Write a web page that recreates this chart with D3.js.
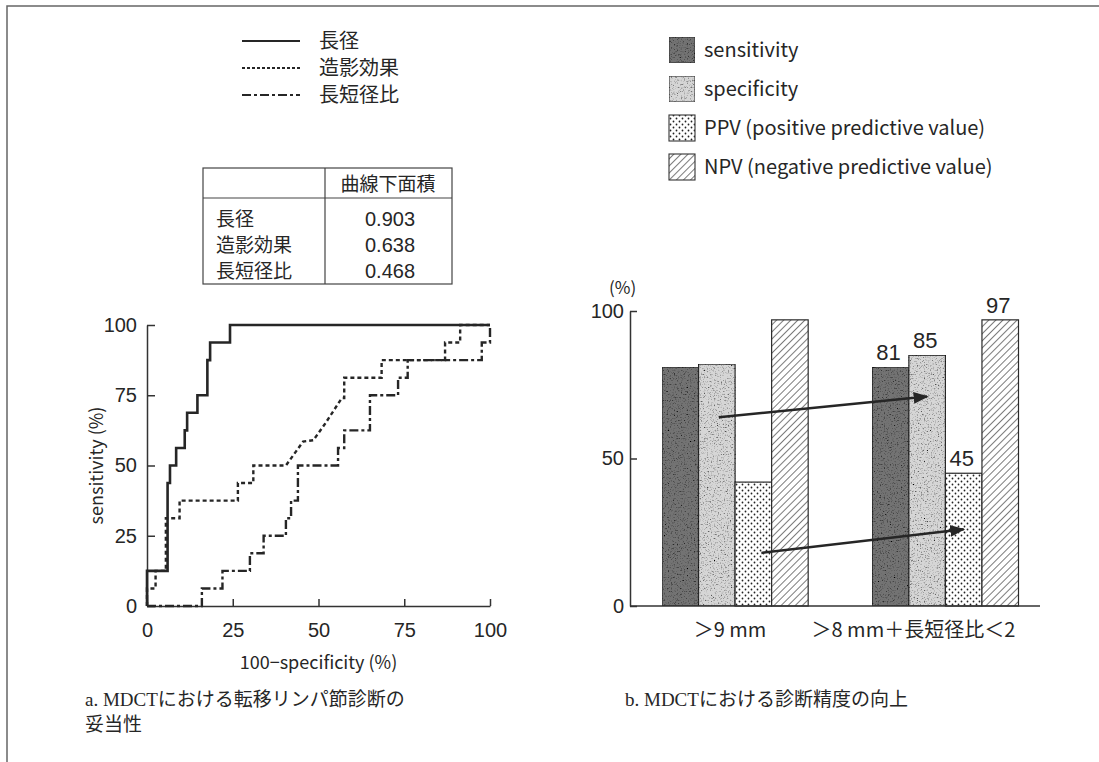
<!DOCTYPE html>
<html>
<head>
<meta charset="utf-8">
<script src="https://cdn.jsdelivr.net/npm/d3@7"></script>
<style>
  body { margin: 0; background: #fff; }
  svg { display: block; }
</style>
</head>
<body>
<svg id="chart" width="1099" height="762"></svg>
<script>
// ---- data: ROC curves (a) ----
const rocNames = ["長径", "造影効果", "長短径比"];
const rocAuc = ["0.903", "0.638", "0.468"];
const rocTicks = [0, 25, 50, 75, 100];

// vertices of each curve (100-specificity, sensitivity)
const fprLong = [0, 0, 6, 6, 6.7, 6.7, 8.5, 8.5, 11, 11, 11.7, 11.7, 14.7, 14.7, 17.6, 17.6, 18.4, 18.4, 24.2, 24.2, 100];
const tprLong = [0, 12.5, 12.5, 43.75, 43.75, 50, 50, 56.25, 56.25, 62.5, 62.5, 68.75, 68.75, 75, 75, 87.5, 87.5, 93.75, 93.75, 100, 100];

const fprContrast = [0, 0, 2.5, 2.5, 5.5, 5.5, 9.5, 9.5, 26.5, 26.5, 31, 31, 40.5, 45.5, 48.5, 52, 56.8, 57.5, 57.5, 68.4, 68.4, 86.9, 86.9, 91.3, 91.3, 100];
const tprContrast = [0, 6.25, 6.25, 12.5, 12.5, 31.25, 31.25, 37.5, 37.5, 43.75, 43.75, 50, 50, 58.5, 59, 65, 74, 74, 81.25, 81.25, 87.5, 87.5, 93.75, 93.75, 100, 100];

const fprRatio = [0, 16, 16, 22, 22, 30, 30, 34, 34, 40.5, 40.5, 42, 42, 44, 44, 55.7, 55.7, 57.5, 57.5, 65, 65, 73.2, 73.2, 76, 76, 97.6, 97.6, 100, 100];
const tprRatio = [0, 0, 6.25, 6.25, 12.5, 12.5, 18.75, 18.75, 25, 25, 31.25, 31.25, 37.5, 37.5, 50, 50, 56.25, 56.25, 62.5, 62.5, 75, 75, 81.25, 81.25, 87.5, 87.5, 93.75, 93.75, 100];

// ---- data: diagnostic accuracy bars (b) ----
const groups = ["＞9 mm", "＞8 mm＋長短径比＜2"];
const series = ["sensitivity", "specificity", "PPV", "NPV"];
const seriesLabels = ["sensitivity", "specificity", "PPV (positive predictive value)", "NPV (negative predictive value)"];
const valuesNine = [81, 82, 42, 97];
const valuesEight = [81, 85, 45, 97];
const barTicks = [0, 50, 100];

// arrows between the two groups, per series: value at start and at the tip
const arrowSeries = ["specificity", "PPV"];
const arrowFrom = [64, 18];
const arrowTo = [71, 26];

const svg = d3.select("#chart");
const ink = "#262626";
const sans = "'Liberation Sans', 'Noto Sans CJK JP', sans-serif";
const jp = "'Noto Sans CJK JP', sans-serif";
const serif = "'Liberation Serif', 'DejaVu Serif', 'Noto Sans CJK JP', serif";

// frame (only top & left visible)
svg.append("path")
  .attr("d", "M7,762V6H1099")
  .attr("fill", "none")
  .attr("stroke", "#666")
  .attr("stroke-width", 1.5);

// ---- defs: patterns, grain, arrow ----
const defs = svg.append("defs");

const dots = defs.append("pattern")
  .attr("id", "dots")
  .attr("patternUnits", "userSpaceOnUse")
  .attr("width", 6).attr("height", 6);
dots.append("rect").attr("width", 6).attr("height", 6).attr("fill", "#fff");
dots.append("circle").attr("cx", 1.5).attr("cy", 1.5).attr("r", 0.9).attr("fill", "#222");
dots.append("circle").attr("cx", 4.5).attr("cy", 4.5).attr("r", 0.9).attr("fill", "#222");

const hatch = defs.append("pattern")
  .attr("id", "hatch")
  .attr("patternUnits", "userSpaceOnUse")
  .attr("width", 5).attr("height", 5)
  .attr("patternTransform", "rotate(45)");
hatch.append("rect").attr("width", 5).attr("height", 5).attr("fill", "#fff");
hatch.append("line").attr("x1", 0).attr("y1", 0).attr("x2", 0).attr("y2", 5)
  .attr("stroke", "#222").attr("stroke-width", 1.2);

// speckled print texture for the two grey fills
const grain = defs.append("filter").attr("id", "grain")
  .attr("x", 0).attr("y", 0).attr("width", 1).attr("height", 1);
grain.append("feTurbulence").attr("type", "fractalNoise")
  .attr("baseFrequency", 0.7).attr("numOctaves", 2).attr("seed", 5).attr("result", "noise");
grain.append("feColorMatrix").attr("in", "noise").attr("type", "matrix")
  .attr("values", "0 0 0 0 0  0 0 0 0 0  0 0 0 0 0  3 0 0 0 -1.6").attr("result", "speck");
grain.append("feComposite").attr("in", "speck").attr("in2", "SourceGraphic")
  .attr("operator", "in").attr("result", "speckIn");
const merge = grain.append("feMerge");
merge.append("feMergeNode").attr("in", "SourceGraphic");
merge.append("feMergeNode").attr("in", "speckIn");

defs.append("marker")
  .attr("id", "arrowhead")
  .attr("viewBox", "0 -5 10 10")
  .attr("refX", 9).attr("refY", 0)
  .attr("markerWidth", 6).attr("markerHeight", 6)
  .attr("markerUnits", "strokeWidth")
  .attr("orient", "auto")
  .append("path")
  .attr("d", "M0,-4L10,0L0,4Z")
  .attr("fill", ink);

// ======================= a. ROC =======================
const xRoc = d3.scaleLinear().domain([0, 100]).range([147, 490]);
const yRoc = d3.scaleLinear().domain([0, 100]).range([606, 325]);

const rocStyles = [
  { dash: null, width: 2.6, legendDash: null },
  { dash: "4,3", width: 2.4, legendDash: "3,2" },
  { dash: "9,3,3,3", width: 2.4, legendDash: "9,3,3,3" }
];

// legend
const legendA = svg.append("g").attr("class", "legend-a");
rocNames.forEach((name, i) => {
  const y = 41 + i * 27;
  legendA.append("line")
    .attr("x1", 242).attr("x2", 300).attr("y1", y).attr("y2", y)
    .attr("stroke", ink)
    .attr("stroke-width", 2)
    .attr("stroke-dasharray", rocStyles[i].legendDash);
  legendA.append("text")
    .attr("x", 319).attr("y", y)
    .attr("dy", "0.36em")
    .style("font-family", jp)
    .style("font-size", "20px")
    .attr("fill", ink)
    .text(name);
});

// AUC table
const table = svg.append("g").attr("class", "auc-table");
table.append("rect")
  .attr("x", 203).attr("y", 168).attr("width", 249).attr("height", 116)
  .attr("fill", "none").attr("stroke", "#444").attr("stroke-width", 1.2);
table.append("line").attr("x1", 203).attr("x2", 452).attr("y1", 198).attr("y2", 198)
  .attr("stroke", "#444").attr("stroke-width", 1.2);
table.append("line").attr("x1", 325).attr("x2", 325).attr("y1", 168).attr("y2", 284)
  .attr("stroke", "#444").attr("stroke-width", 1.2);
table.append("text")
  .attr("x", 388).attr("y", 184).attr("dy", "0.36em")
  .attr("text-anchor", "middle")
  .style("font-family", jp).style("font-size", "19px").attr("fill", ink)
  .text("曲線下面積");
rocNames.forEach((name, i) => {
  const y = 219 + i * 26;
  table.append("text")
    .attr("x", 216).attr("y", y).attr("dy", "0.36em")
    .style("font-family", jp).style("font-size", "19px").attr("fill", ink)
    .text(name);
  table.append("text")
    .attr("x", 390).attr("y", y).attr("dy", "0.36em")
    .attr("text-anchor", "middle")
    .style("font-family", sans).style("font-size", "20px").attr("fill", ink)
    .text(rocAuc[i]);
});

// axes
const axisA = svg.append("g").attr("class", "axis-a");
axisA.append("g")
  .attr("transform", `translate(${xRoc(0)},0)`)
  .call(d3.axisLeft(yRoc).tickValues(rocTicks).tickSize(-8).tickSizeOuter(0).tickPadding(10));
axisA.append("g")
  .attr("transform", `translate(0,${yRoc(0)})`)
  .call(d3.axisBottom(xRoc).tickValues(rocTicks).tickSize(-7).tickSizeOuter(0).tickPadding(17));
axisA.selectAll("path, line").attr("stroke", "#333").attr("stroke-width", 1.5);
axisA.selectAll("text")
  .style("font-family", sans).style("font-size", "20px").attr("fill", ink);

svg.append("text")
  .attr("transform", `translate(103,${yRoc(50)}) rotate(-90)`)
  .attr("text-anchor", "middle")
  .style("font-family", jp).style("font-size", "18px").attr("fill", ink)
  .text("sensitivity (%)");
svg.append("text")
  .attr("x", xRoc(50)).attr("y", 669)
  .attr("text-anchor", "middle")
  .style("font-family", jp).style("font-size", "18px").attr("fill", ink)
  .text("100−specificity (%)");

// curves
const rocLine = d3.line().x(d => xRoc(d[0])).y(d => yRoc(d[1]));
const rocCurves = [
  d3.zip(fprLong, tprLong),
  d3.zip(fprContrast, tprContrast),
  d3.zip(fprRatio, tprRatio)
];
svg.append("g").attr("class", "roc")
  .selectAll("path")
  .data(rocCurves)
  .enter().append("path")
  .attr("d", rocLine)
  .attr("fill", "none")
  .attr("stroke", ink)
  .attr("stroke-width", (d, i) => rocStyles[i].width)
  .attr("stroke-dasharray", (d, i) => rocStyles[i].dash)
  .attr("stroke-linejoin", "miter");

// ======================= b. bars =======================
const yBar = d3.scaleLinear().domain([0, 100]).range([606, 311]);
const x0 = d3.scaleBand().domain(groups).range([662, 1018.5]).paddingInner(0.305);
const x1 = d3.scaleBand().domain(series).range([0, x0.bandwidth()]);
const fills = ["#737373", "#d6d6d6", "url(#dots)", "url(#hatch)"];
const grainy = [true, true, false, false];

// legend
const legendB = svg.append("g").attr("class", "legend-b");
series.forEach((s, i) => {
  const y = 50 + i * 39;
  legendB.append("rect")
    .attr("x", 669).attr("y", y - 13).attr("width", 26).attr("height", 26)
    .attr("fill", fills[i])
    .attr("filter", grainy[i] ? "url(#grain)" : null)
    .attr("stroke", "#333").attr("stroke-width", 1.1);
  legendB.append("text")
    .attr("x", 704).attr("y", y).attr("dy", "0.36em")
    .style("font-family", jp).style("font-size", "20px").attr("fill", ink)
    .text(seriesLabels[i]);
});

const barRows = [valuesNine, valuesEight];
const barData = [];
groups.forEach((g, gi) => {
  series.forEach((s, si) => {
    barData.push({ group: g, series: s, value: barRows[gi][si], si: si, gi: gi });
  });
});

svg.append("g").attr("class", "bars")
  .selectAll("rect")
  .data(barData)
  .enter().append("rect")
  .attr("x", d => x0(d.group) + x1(d.series))
  .attr("y", d => yBar(d.value))
  .attr("width", x1.bandwidth())
  .attr("height", d => yBar(0) - yBar(d.value))
  .attr("fill", d => fills[d.si])
  .attr("filter", d => grainy[d.si] ? "url(#grain)" : null)
  .attr("stroke", "#2a2a2a")
  .attr("stroke-width", 1.2);

// value labels on the second group
svg.append("g").attr("class", "bar-labels")
  .selectAll("text")
  .data(barData.filter(d => d.gi === 1))
  .enter().append("text")
  .attr("x", d => x0(d.group) + x1(d.series) + x1.bandwidth() / 2 - 2)
  .attr("y", d => yBar(d.value) - 7)
  .attr("text-anchor", "middle")
  .style("font-family", sans).style("font-size", "22px").attr("fill", ink)
  .text(d => d.value);

// axes
const axisB = svg.append("g").attr("class", "axis-b");
axisB.append("g")
  .attr("transform", "translate(630,0)")
  .call(d3.axisLeft(yBar).tickValues(barTicks).tickSize(-7).tickSizeOuter(0).tickPadding(6));
axisB.append("line")
  .attr("x1", 630).attr("x2", 1040).attr("y1", yBar(0)).attr("y2", yBar(0));
axisB.selectAll("path, line").attr("stroke", "#333").attr("stroke-width", 1.5);
axisB.selectAll("text")
  .style("font-family", sans).style("font-size", "20px").attr("fill", ink);

svg.append("text")
  .attr("x", 609).attr("y", 288).attr("dy", "0.36em")
  .style("font-family", jp).style("font-size", "17px").attr("fill", ink)
  .text("(%)");

svg.append("g").attr("class", "group-labels")
  .selectAll("text")
  .data(groups)
  .enter().append("text")
  .attr("x", (d, i) => x0(d) + x0.bandwidth() / 2 - (i === 1 ? 32 : 5))
  .attr("y", 630).attr("dy", "0.36em")
  .attr("text-anchor", "middle")
  .style("font-family", jp).style("font-size", "20px").attr("fill", ink)
  .text(d => d);

// arrows
svg.append("g").attr("class", "arrows")
  .selectAll("line")
  .data(arrowSeries)
  .enter().append("line")
  .attr("x1", (s, i) => x0(groups[0]) + x1(s) + x1.bandwidth() / 2 + (i === 1 ? 8 : 2))
  .attr("y1", (s, i) => yBar(arrowFrom[i]))
  .attr("x2", (s, i) => x0(groups[1]) + x1(s) + x1.bandwidth() / 2)
  .attr("y2", (s, i) => yBar(arrowTo[i]))
  .attr("stroke", ink)
  .attr("stroke-width", 2.5)
  .attr("marker-end", "url(#arrowhead)");

// ======================= captions =======================
const captions = [
  { x: 85, y: 706, t: "a. MDCTにおける転移リンパ節診断の" },
  { x: 85, y: 731, t: "妥当性" },
  { x: 625, y: 706, t: "b. MDCTにおける診断精度の向上" }
];
svg.append("g").attr("class", "captions")
  .selectAll("text")
  .data(captions)
  .enter().append("text")
  .attr("x", d => d.x).attr("y", d => d.y)
  .style("font-family", serif).style("font-size", "19px").attr("fill", ink)
  .text(d => d.t);
</script>
</body>
</html>
